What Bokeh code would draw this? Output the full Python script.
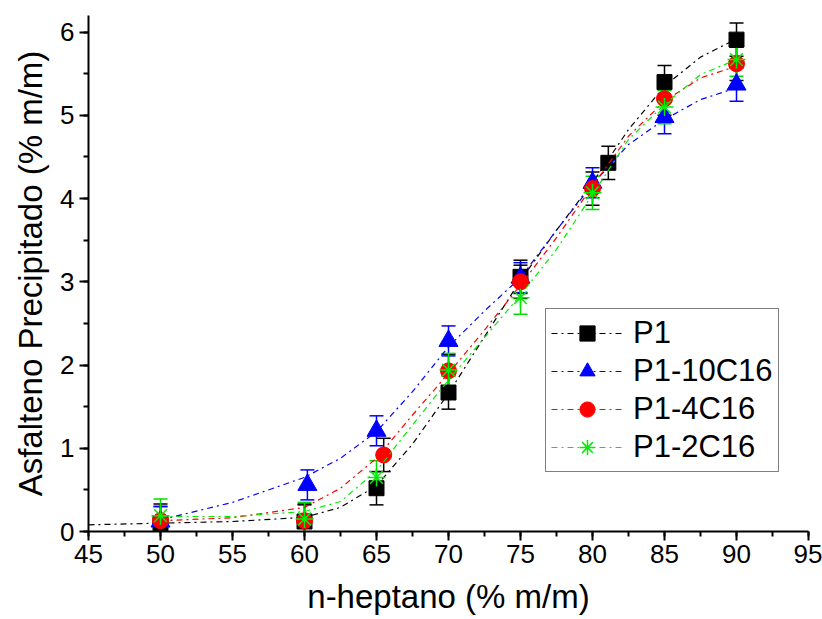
from bokeh.plotting import figure
from bokeh.models import (ColumnDataSource, Whisker, Legend, LegendItem,
                          SingleIntervalTicker, Range1d)
from bokeh.embed import file_html
from bokeh.resources import INLINE

# ---- data ----
names = ["P1", "P1-10C16", "P1-4C16", "P1-2C16"]

p1_x = [50, 60, 65, 70, 75, 81.1, 85, 90]
p1_y = [0.10, 0.12, 0.52, 1.67, 3.06, 4.43, 5.40, 5.91]
p1_e = [0.2, 0.2, 0.2, 0.2, 0.2, 0.2, 0.2, 0.2]

b_x = [50, 60.2, 65, 70, 75, 80, 85, 90]
b_y = [0.12, 0.56, 1.21, 2.29, 3.05, 4.19, 4.98, 5.37]
b_e = [0.18, 0.18, 0.18, 0.18, 0.18, 0.18, 0.2, 0.2]

r_x = [50, 60, 65.5, 70, 75, 80, 85, 90]
r_y = [0.13, 0.13, 0.92, 1.93, 3.00, 4.12, 5.20, 5.62]
r_e = [0.2, 0.2, 0.2, 0.2, 0.2, 0.2, 0.2, 0.2]

g_x = [50, 60, 65, 70, 75, 80, 85, 90]
g_y = [0.19, 0.15, 0.65, 1.94, 2.81, 4.07, 5.10, 5.67]
g_e = [0.2, 0.2, 0.2, 0.2, 0.2, 0.2, 0.2, 0.2]

# fitted curves
fit_x_black = [45, 50, 55, 60, 62.5, 65, 67.5, 70, 72.5, 75, 77.5, 80, 82.5, 85, 87.5, 90]
fit_black = [0.08, 0.10, 0.12, 0.17, 0.29, 0.55, 1.05, 1.66, 2.34, 3.02, 3.62, 4.19, 4.83, 5.35, 5.70, 5.92]
fit_x = [50, 55, 60, 62.5, 65, 67.5, 70, 72.5, 75, 77.5, 80, 82.5, 85, 87.5, 90]
fit_blue = [0.14, 0.35, 0.65, 0.88, 1.20, 1.68, 2.22, 2.65, 3.05, 3.62, 4.17, 4.65, 4.95, 5.19, 5.33]
fit_red = [0.13, 0.165, 0.29, 0.52, 0.88, 1.40, 1.90, 2.42, 2.96, 3.53, 4.15, 4.75, 5.17, 5.45, 5.59]
fit_green = [0.18, 0.18, 0.24, 0.36, 0.73, 1.28, 1.82, 2.33, 2.84, 3.39, 4.05, 4.71, 5.13, 5.49, 5.67]

FONT = "Liberation Sans"

p = figure(width=822, height=619, output_backend="svg", toolbar_location=None,
           x_range=Range1d(45, 95), y_range=Range1d(0, 6.2),
           min_border_left=88, min_border_right=14, min_border_top=15,
           min_border_bottom=88)
p.outline_line_color = None
p.grid.visible = False
p.background_fill_color = "white"
p.border_fill_color = "white"

p.xaxis.ticker = SingleIntervalTicker(interval=5, num_minor_ticks=2)
p.yaxis.ticker = SingleIntervalTicker(interval=1, num_minor_ticks=2)
for ax in (p.xaxis[0], p.yaxis[0]):
    ax.axis_line_width = 2
    ax.axis_line_color = "black"
    ax.major_tick_line_width = 2
    ax.minor_tick_line_width = 2
    ax.major_tick_out = 9
    ax.major_tick_in = 0
    ax.minor_tick_out = 5
    ax.minor_tick_in = 0
    ax.major_label_text_font = FONT
    ax.major_label_text_font_size = "26px"
    ax.major_label_text_color = "black"
    ax.axis_label_text_font = FONT
    ax.axis_label_text_font_size = "33px"
    ax.axis_label_text_font_style = "normal"
    ax.axis_label_text_color = "black"
p.xaxis.axis_label = "n-heptano (% m/m)"
p.yaxis.axis_label = "Asfalteno Precipitado (% m/m)"
p.xaxis.major_label_standoff = 4
p.yaxis.major_label_standoff = 5
p.xaxis.axis_label_standoff = 12
p.yaxis.axis_label_standoff = 8

series = [
    (p1_x, p1_y, p1_e, fit_x_black, fit_black, "black", "square", 15, "black"),
    (b_x, b_y, b_e, fit_x, fit_blue, "blue", "triangle", 19, "blue"),
    (r_x, r_y, r_e, fit_x, fit_red, "red", "circle", 16, "black"),
    (g_x, g_y, g_e, fit_x, fit_green, "#00ee00", "asterisk", 18, "#00dd00"),
]

items = []
for (xs, ys, es, fx, fy, col, mk, sz, ecol), nm in zip(series, names):
    ln = p.line(fx, fy, line_color=col, line_width=1.2, line_dash="dashdot")
    src = ColumnDataSource(dict(x=xs, y=ys,
                                lo=[a - b for a, b in zip(ys, es)],
                                hi=[a + b for a, b in zip(ys, es)]))
    w = Whisker(source=src, base="x", lower="lo", upper="hi",
                line_color=ecol, line_width=1.5)
    w.upper_head.size = 14
    w.lower_head.size = 14
    w.upper_head.line_color = ecol
    w.lower_head.line_color = ecol
    w.upper_head.line_width = 1.5
    w.lower_head.line_width = 1.5
    p.add_layout(w)
    if mk == "asterisk":
        sc = p.scatter("x", "y", source=src, marker=mk, size=sz,
                       line_color=col, line_width=1.5)
    else:
        sc = p.scatter("x", "y", source=src, marker=mk, size=sz,
                       fill_color=col, line_color=col)
    items.append(LegendItem(label=nm, renderers=[ln, sc]))

legend = Legend(items=items, location=(457, 59), orientation="vertical",
                label_text_font=FONT, label_text_font_size="31px",
                label_text_color="black",
                glyph_width=72, glyph_height=38, spacing=0,
                padding=5, margin=0,
                border_line_color="black", border_line_width=1.5,
                background_fill_alpha=1.0, label_standoff=10)
p.add_layout(legend)

open("out.html", "w").write(file_html(p, INLINE))
